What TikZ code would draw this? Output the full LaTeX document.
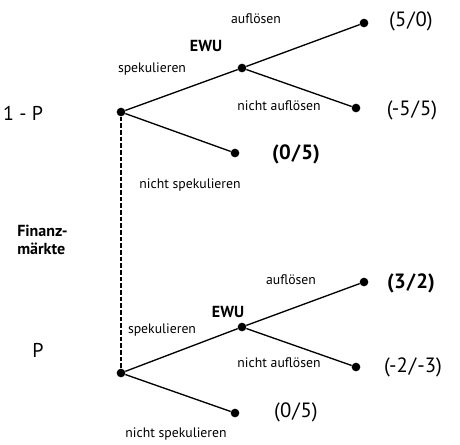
\documentclass[tikz,border=0pt]{standalone}
\usepackage{fontspec}
\setmainfont{PT Sans}
\newcommand{\sls}{\kern0.8pt/\kern0.8pt}
\begin{document}
\begin{tikzpicture}[x=0.75pt,y=-0.75pt,
  dot/.style={circle,fill=black,inner sep=0pt,minimum size=6.5pt},
  edge/.style={line width=1pt},
  lab/.style={inner sep=0pt,font=\fontsize{10.3}{12}\selectfont},
  blab/.style={inner sep=0pt,font=\fontsize{12}{14}\selectfont\bfseries},
  pay/.style={inner sep=0pt,font=\fontsize{15.5}{18}\selectfont},
  bpay/.style={inner sep=0pt,font=\fontsize{15.5}{18}\selectfont\bfseries},
  side/.style={inner sep=0pt,font=\fontsize{15}{18}\selectfont},
  fin/.style={inner sep=0pt,align=left,font=\fontsize{12}{13}\selectfont\bfseries}]
\useasboundingbox (0,0) rectangle (460,444);
% top tree
\node[dot] (r1) at (121,112) {};
\node[dot] (e1) at (242,68) {};
\node[dot] (a1) at (364,23) {};
\node[dot] (n1) at (356,108) {};
\node[dot] (s1) at (235,153) {};
% bottom tree
\node[dot] (r2) at (121,373) {};
\node[dot] (e2) at (242,327) {};
\node[dot] (a2) at (364,282) {};
\node[dot] (n2) at (356,367) {};
\node[dot] (s2) at (235,413) {};
\draw[edge] (r1) -- (e1);
\draw[edge] (e1) -- (a1);
\draw[edge] (e1) -- (n1);
\draw[edge] (r1) -- (s1);
\draw[edge] (r2) -- (e2);
\draw[edge] (e2) -- (a2);
\draw[edge] (e2) -- (n2);
\draw[edge] (r2) -- (s2);
\draw[line width=1pt,dash pattern=on 3.5pt off 1.5pt] (r1) -- (r2);
% labels top
\node[lab] (t1) at (256,19) {auflösen};
\node[blab] (t2) at (206,46) {EWU};
\node[lab] (t3) at (152,69) {spekulieren};
\node[lab] (t4) at (279,106) {nicht auflösen};
\node[lab] (t5) at (190,185) {nicht spekulieren};
\node[pay] (p1) at (411,21) {(5\sls0)};
\node[pay] (p2) at (412,110) {(-5\sls5)};
\node[bpay] (p3) at (296,154) {(0\sls5)};
% labels bottom
\node[lab] (u1) at (291,280) {auflösen};
\node[blab] (u2) at (228,312) {EWU};
\node[lab] (u3) at (162,330) {spekulieren};
\node[lab] (u4) at (279,363) {nicht auflösen};
\node[lab] (u5) at (176,434) {nicht spekulieren};
\node[bpay] (q1) at (411,283) {(3\sls2)};
\node[pay] (q2) at (413,367) {(-2\sls-3)};
\node[pay] (q3) at (296,412) {(0\sls5)};
% side
\node[side] (sp1) at (23,113) {1 - P};
\node[side] (sp2) at (38,350) {P};
\node[fin,anchor=west] (fm) at (17,240) {Finanz-\\märkte};
\end{tikzpicture}
\end{document}
